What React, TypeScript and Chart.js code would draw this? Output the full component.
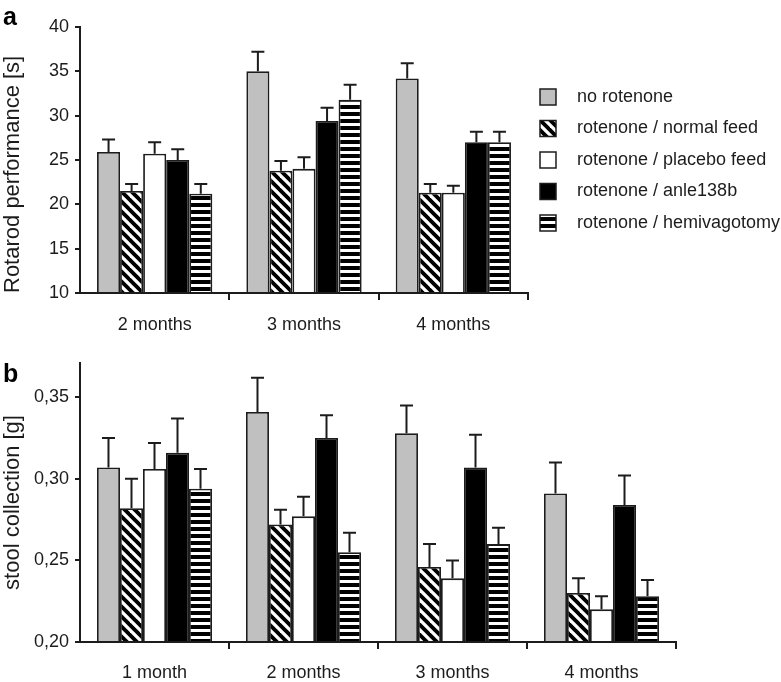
import React, { useEffect, useRef } from 'react';
import { Chart, registerables } from 'chart.js';

Chart.register(...registerables);

const FONT = '"Liberation Sans", Arial, Helvetica, sans-serif';
const INK = '#1c1c1c';
const GRAY = '#c0c0c0';

const seriesLabels = [
  'no rotenone',
  'rotenone / normal feed',
  'rotenone / placebo feed',
  'rotenone / anle138b',
  'rotenone / hemivagotomy',
];

// ---- panel a: rotarod performance [s]
const categoriesA = ['2 months', '3 months', '4 months'];
const noRotenoneA = [25.9, 35.0, 34.2];
const normalFeedA = [21.5, 23.8, 21.3];
const placeboFeedA = [25.7, 24.0, 21.3];
const anle138bA = [25.0, 29.4, 27.0];
const hemivagotomyA = [21.2, 31.8, 27.0];
const noRotenoneErrA = [1.4, 2.2, 1.7];
const normalFeedErrA = [0.8, 1.1, 1.0];
const placeboFeedErrA = [1.3, 1.3, 0.8];
const anle138bErrA = [1.2, 1.5, 1.2];
const hemivagotomyErrA = [1.1, 1.7, 1.2];
const yTicksA = [10, 15, 20, 25, 30, 35, 40];

// ---- panel b: stool collection [g]
const categoriesB = ['1 month', '2 months', '3 months', '4 months'];
const noRotenoneB = [0.307, 0.341, 0.328, 0.291];
const normalFeedB = [0.282, 0.272, 0.246, 0.230];
const placeboFeedB = [0.306, 0.277, 0.239, 0.220];
const anle138bB = [0.316, 0.325, 0.307, 0.284];
const hemivagotomyB = [0.294, 0.255, 0.260, 0.228];
const noRotenoneErrB = [0.018, 0.021, 0.017, 0.019];
const normalFeedErrB = [0.018, 0.009, 0.014, 0.009];
const placeboFeedErrB = [0.016, 0.012, 0.011, 0.008];
const anle138bErrB = [0.021, 0.014, 0.020, 0.018];
const hemivagotomyErrB = [0.012, 0.012, 0.010, 0.010];
const yTicksB = [0.2, 0.25, 0.3, 0.35];

function makeFills(ctx: CanvasRenderingContext2D) {
  const diag = document.createElement('canvas');
  diag.width = 10;
  diag.height = 10;
  const d = diag.getContext('2d')!;
  d.fillStyle = '#fff';
  d.fillRect(0, 0, 10, 10);
  d.strokeStyle = '#000';
  d.lineWidth = 3.8;
  for (const k of [-1, 0, 1]) {
    d.beginPath();
    d.moveTo(k * 10 - 2, -2);
    d.lineTo(k * 10 + 12, 12);
    d.stroke();
  }
  const hor = document.createElement('canvas');
  hor.width = 4;
  hor.height = 7;
  const h = hor.getContext('2d')!;
  h.fillStyle = '#fff';
  h.fillRect(0, 0, 4, 7);
  h.fillStyle = '#000';
  h.fillRect(0, 0, 4, 4);
  return [
    GRAY,
    ctx.createPattern(diag, 'repeat') as any,
    '#ffffff',
    '#000000',
    ctx.createPattern(hor, 'repeat') as any,
  ];
}

type PanelSpec = {
  categories: string[];
  values: number[][];
  errors: number[][];
  min: number;
  max: number;
  ticks: number[];
  fmt: (v: number) => string;
  yTitle: string;
  titleAlign: 'start' | 'center' | 'end';
  letter: string;
  letterY: number;
  legend: boolean;
  padding: { top: number; right: number; bottom: number; left: number };
  xHeight: number;
  xPad: number;
};

function buildConfig(ctx: CanvasRenderingContext2D, p: PanelSpec): any {
  const fills = makeFills(ctx);

  const errorBars = {
    id: 'errorBars',
    afterDatasetsDraw(chart: any) {
      const c = chart.ctx;
      const y = chart.scales.y;
      chart.data.datasets.forEach((ds: any, i: number) => {
        const meta = chart.getDatasetMeta(i);
        meta.data.forEach((bar: any, j: number) => {
          const top = y.getPixelForValue(ds.data[j] + p.errors[i][j]);
          c.save();
          c.strokeStyle = INK;
          c.lineWidth = 2;
          c.beginPath();
          c.moveTo(bar.x, bar.y);
          c.lineTo(bar.x, top);
          c.moveTo(bar.x - 6.5, top);
          c.lineTo(bar.x + 6.5, top);
          c.stroke();
          c.restore();
        });
      });
    },
  };

  const extras = {
    id: 'extras',
    afterDraw(chart: any) {
      const c = chart.ctx;
      const area = chart.chartArea;
      c.save();
      c.fillStyle = '#000';
      c.font = `bold 25px ${FONT}`;
      c.textBaseline = 'alphabetic';
      c.textAlign = 'left';
      c.fillText(p.letter, 3, p.letterY);
      if (p.legend) {
        const mid = (area.top + area.bottom) / 2;
        const pitch = 31.5;
        const bx = area.right + 12;
        c.font = `18px ${FONT}`;
        c.textBaseline = 'middle';
        chart.data.datasets.forEach((ds: any, i: number) => {
          const cy = mid + (i - 2) * pitch;
          c.fillStyle = fills[i];
          c.fillRect(bx, cy - 8, 16, 16);
          c.strokeStyle = INK;
          c.lineWidth = 1.5;
          c.strokeRect(bx, cy - 8, 16, 16);
          c.fillStyle = INK;
          c.fillText(ds.label, bx + 37, cy);
        });
      }
      c.restore();
    },
  };

  return {
    type: 'bar',
    data: {
      labels: p.categories,
      datasets: p.values.map((vals, i) => ({
        label: seriesLabels[i],
        data: vals,
        base: p.min,
        backgroundColor: fills[i],
        borderColor: INK,
        borderWidth: 1.8,
        categoryPercentage: 0.772,
        barPercentage: 1,
      })),
    },
    options: {
      responsive: false,
      animation: false,
      devicePixelRatio: 1,
      layout: { padding: p.padding },
      plugins: {
        legend: { display: false },
        tooltip: { enabled: false },
      },
      scales: {
        x: {
          afterFit: (s: any) => {
            s.height = p.xHeight;
          },
          ticks: { font: { size: 18, family: FONT }, color: INK, padding: p.xPad },
          grid: {
            offset: true,
            drawOnChartArea: false,
            tickLength: 7,
            lineWidth: 2,
            color: INK,
            tickColor: (c: any) => (c.index === 0 ? 'rgba(0,0,0,0)' : INK),
          },
          border: { display: true, color: INK, width: 2 },
        },
        y: {
          min: p.min,
          max: p.max,
          afterBuildTicks: (s: any) => {
            s.ticks = p.ticks.map((v) => ({ value: v }));
          },
          afterFit: (s: any) => {
            s.width = 80 - p.padding.left;
          },
          ticks: {
            font: { size: 18, family: FONT },
            color: INK,
            padding: 6,
            callback: (v: any) => p.fmt(Number(v)),
          },
          grid: { drawOnChartArea: false, tickLength: 5, lineWidth: 2, color: INK },
          border: { display: true, color: INK, width: 2 },
          title: {
            display: true,
            text: p.yTitle,
            align: p.titleAlign,
            color: INK,
            font: { size: 22, family: FONT },
            padding: { top: 0, bottom: 0 },
          },
        },
      },
    },
    plugins: [errorBars, extras],
  };
}

function Panel({ spec, top, height }: { spec: PanelSpec; top: number; height: number }) {
  const ref = useRef<HTMLCanvasElement>(null);
  useEffect(() => {
    const canvas = ref.current!;
    const ctx = canvas.getContext('2d')!;
    const chart = new Chart(ctx, buildConfig(ctx, spec));
    return () => chart.destroy();
  }, []);
  return (
    <canvas
      ref={ref}
      width={781}
      height={height}
      style={{ position: 'absolute', left: 0, top, width: 781, height, display: 'block' }}
    />
  );
}

const specA: PanelSpec = {
  categories: categoriesA,
  values: [noRotenoneA, normalFeedA, placeboFeedA, anle138bA, hemivagotomyA],
  errors: [noRotenoneErrA, normalFeedErrA, placeboFeedErrA, anle138bErrA, hemivagotomyErrA],
  min: 10,
  max: 40,
  ticks: yTicksA,
  fmt: (v) => String(v),
  yTitle: 'Rotarod performance [s]',
  titleAlign: 'start',
  letter: 'a',
  letterY: 25,
  legend: true,
  padding: { top: 27, right: 253, bottom: 0, left: 0 },
  xHeight: 52,
  xPad: 14,
};

const specB: PanelSpec = {
  categories: categoriesB,
  values: [noRotenoneB, normalFeedB, placeboFeedB, anle138bB, hemivagotomyB],
  errors: [noRotenoneErrB, normalFeedErrB, placeboFeedErrB, anle138bErrB, hemivagotomyErrB],
  min: 0.2,
  max: 0.371,
  ticks: yTicksB,
  fmt: (v) => v.toFixed(2).replace('.', ','),
  yTitle: 'stool collection [g]',
  titleAlign: 'center',
  letter: 'b',
  letterY: 37,
  legend: false,
  padding: { top: 18, right: 105, bottom: 0, left: 0 },
  xHeight: 40,
  xPad: 13,
};

export default function App() {
  return (
    <div
      style={{
        position: 'absolute',
        left: 0,
        top: 0,
        width: 781,
        height: 682,
        background: '#fff',
        overflow: 'hidden',
      }}
    >
      <Panel spec={specA} top={0} height={345} />
      <Panel spec={specB} top={345} height={337} />
    </div>
  );
}
